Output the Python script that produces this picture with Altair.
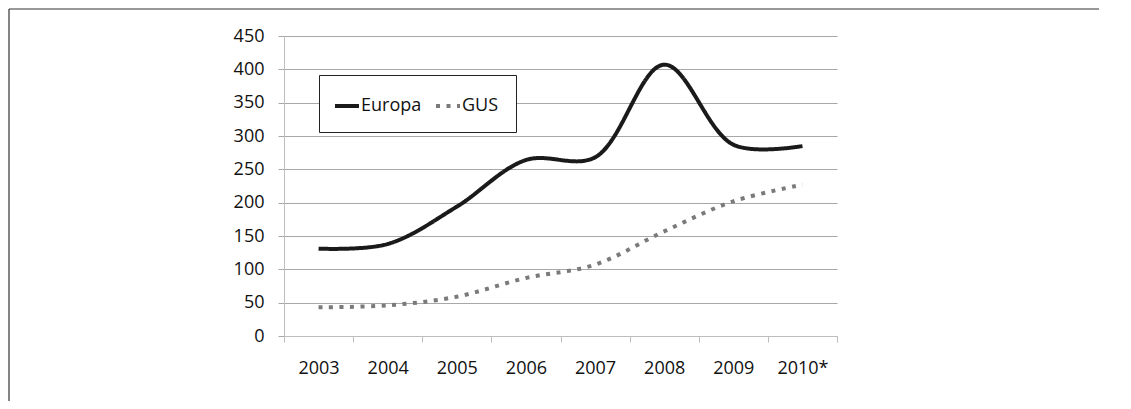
import altair as alt
import pandas as pd

years = ["2003", "2004", "2005", "2006", "2007", "2008", "2009", "2010*"]
europa = [131, 138, 194, 264, 268, 407, 287, 285]
gus = [43, 46, 59, 87, 107, 157, 202, 227]
series = ["Europa", "GUS"]

rows = []
for y, e, g in zip(years, europa, gus):
    rows.append({"year": y, "value": e, "series": "Europa"})
    rows.append({"year": y, "value": g, "series": "GUS"})
df = pd.DataFrame(rows)

FONT = "Open Sans"

legend = alt.Legend(title=None, orient="none", legendX=35, legendY=39,
                    direction="horizontal", strokeColor="#222222",
                    fillColor="white", padding=17, columnPadding=6,
                    labelOffset=0, symbolOffset=-3, symbolType="stroke", symbolSize=576,
                    symbolStrokeWidth=4)

lines = alt.Chart(df).mark_line(interpolate="catmull-rom", strokeWidth=4).encode(
    x=alt.X("year:N", sort=years, bandPosition=0.5,
            scale=alt.Scale(type="band", paddingInner=0, paddingOuter=0),
            axis=alt.Axis(title=None, labelAngle=0, tickBand="extent", grid=False,
                          domainColor="#bdbdbd", tickColor="#bdbdbd", tickSize=6,
                          labelPadding=17)),
    y=alt.Y("value:Q", scale=alt.Scale(domain=[0, 450], nice=False),
            axis=alt.Axis(title=None, values=list(range(0, 451, 50)), grid=True,
                          gridColor="#a8a8a8", domainColor="#bdbdbd", tickColor="#a8a8a8",
                          tickSize=6, labelPadding=14)),
    color=alt.Color("series:N", scale=alt.Scale(domain=series, range=["#1a1a1a", "#7a7a7a"]),
                    legend=legend),
    strokeDash=alt.StrokeDash("series:N", scale=alt.Scale(domain=series, range=[[1, 0], [4, 6.5]]),
                              legend=legend),
)

frame_data = alt.Data(values=[{"f": 1}])
frame_left = alt.Chart(frame_data).mark_rule(color="#333333", strokeWidth=1.2).encode(
    x=alt.value(-275), x2=alt.value(-275), y=alt.value(-27), y2=alt.value(365))
frame_top = alt.Chart(frame_data).mark_rule(color="#333333", strokeWidth=1.2).encode(
    x=alt.value(-275), x2=alt.value(815), y=alt.value(-27), y2=alt.value(-27))

chart = alt.layer(frame_left, frame_top, lines).properties(
    width=553, height=300, padding=0
).configure_view(stroke=None).configure_axis(
    labelFont=FONT, labelFontSize=18, labelColor="#111111"
).configure_legend(
    labelFont=FONT, labelFontSize=18, labelColor="#111111"
)

chart.save("out.html", embed_options={"renderer": "svg", "actions": False})
